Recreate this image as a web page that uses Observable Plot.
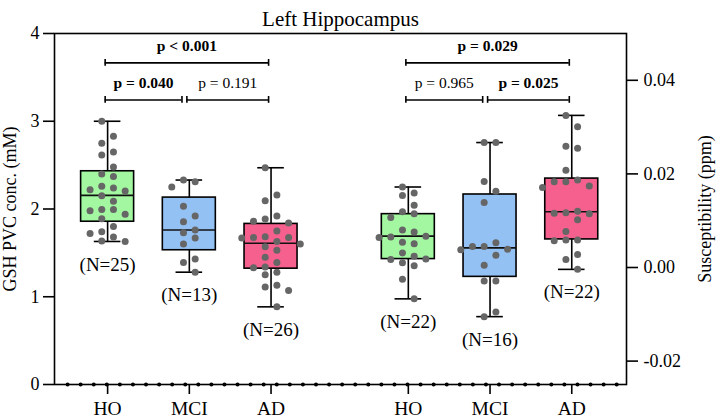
<!DOCTYPE html>
<html><head><meta charset="utf-8">
<script src="https://cdn.jsdelivr.net/npm/d3@7"></script>
<script src="https://cdn.jsdelivr.net/npm/@observablehq/plot@0.6"></script>
<style>body{margin:0;background:#fff}</style>
</head><body><div id="chart"></div>
<script>
// ---------- data ----------
const title = "Left Hippocampus";
const leftLabel = "GSH PVC conc. (mM)";
const rightLabel = "Susceptibility (ppm)";
const groups = ["HO", "MCI", "AD"];
const fills = ["#a2f7a0", "#94c1f4", "#f5608e"];
const leftTicks = [0, 1, 2, 3, 4];
const rightTicks = [-0.02, 0, 0.02, 0.04];
const leftDomain = [0, 4];
const rightDomain = [-0.025, 0.05];

// GSH PVC concentration (mM), individual subjects
const gshHO = [3.00, 2.83, 2.75, 2.65, 2.615, 2.48, 2.40, 2.37, 2.26, 2.24, 2.22, 2.205, 2.15, 2.087, 1.995, 1.995, 1.98, 1.94, 1.89, 1.80, 1.72, 1.74, 1.68, 1.63, 1.635];
const gshMCI = [2.31, 2.33, 2.25, 2.03, 1.92, 1.855, 1.76, 1.73, 1.67, 1.60, 1.43, 1.39, 1.28];
const gshAD = [2.47, 2.16, 2.095, 1.92, 1.885, 1.86, 1.84, 1.75, 1.685, 1.675, 1.675, 1.67, 1.63, 1.60, 1.57, 1.53, 1.45, 1.39, 1.34, 1.33, 1.28, 1.25, 1.13, 1.11, 1.07, 0.885];
// Susceptibility (ppm), individual subjects
const susHO = [0.0172, 0.0159, 0.0154, 0.0133, 0.0119, 0.0115, 0.0107, 0.0076, 0.0080, 0.0064, 0.0065, 0.0067, 0.0054, 0.0051, 0.0031, 0.0024, 0.0018, 0.0017, 0.0010, 0.0004, -0.0025, -0.0067];
const susMCI = [0.0267, 0.0267, 0.0184, 0.0163, 0.0139, 0.0053, 0.0045, 0.0045, 0.0039, 0.0038, 0.0026, 0.0005, -0.0029, -0.0029, -0.0095, -0.0105];
const susAD = [0.0325, 0.0301, 0.0259, 0.0255, 0.0208, 0.0183, 0.0174, 0.0183, 0.0171, 0.0187, 0.0120, 0.0115, 0.0117, 0.0116, 0.0102, 0.0077, 0.0057, 0.0059, 0.0059, 0.0028, 0.0017, -0.0004];

// box statistics (quartiles) per group
const gshQ1 = [1.855, 1.53, 1.32];
const gshMed = [2.155, 1.76, 1.61];
const gshQ3 = [2.43, 2.13, 1.83];
const susQ1 = [0.0018, -0.0020, 0.0060];
const susMed = [0.0067, 0.0042, 0.0119];
const susQ3 = [0.0114, 0.0156, 0.0190];

// pairwise comparisons: [from group index, to group index, label, p]
const gshComparisons = [[0, 1, "p = 0.040", 0.040], [1, 2, "p = 0.191", 0.191], [0, 2, "p < 0.001", 0.0009]];
const susComparisons = [[0, 1, "p = 0.965", 0.965], [1, 2, "p = 0.025", 0.025], [0, 2, "p = 0.029", 0.029]];

// ---------- layout ----------
const W = 720, H = 418;
const mL = 54, mR = 94, mT = 33, mB = 34;
const xDomain = [0, 7];
const groupPos = [0.65, 1.65, 2.65, 4.33, 5.33, 6.33];
const xPx = (W - mL - mR) / (xDomain[1] - xDomain[0]);
const yPx = (H - mT - mB) / (leftDomain[1] - leftDomain[0]);
const halfBox = 26.5 / xPx, halfCap = 13.3 / xPx, laneW = 11.7 / xPx;
const font = "'Liberation Serif', 'Times New Roman', serif";

const toL = s => (s - rightDomain[0]) / (rightDomain[1] - rightDomain[0]) * (leftDomain[1] - leftDomain[0]) + leftDomain[0];

function swarm(vals) {
  const order = d3.range(vals.length).sort((a, b) => vals[b] - vals[a]);
  const lanes = [-0.5, 0.5, -1.5, 1.5, -2.5, 2.5, -3.5, 3.5];
  const placed = new Map(lanes.map(l => [l, []]));
  const out = new Array(vals.length).fill(0);
  for (const i of order) {
    const y = vals[i] * yPx;
    const free = lanes.filter(l => placed.get(l).every(v => Math.abs(v - y) >= 7.5));
    free.sort((a, b) => Math.abs(a) - Math.abs(b) || placed.get(a).length - placed.get(b).length || a - b);
    const l = free[0];
    placed.get(l).push(y);
    out[i] = l;
  }
  return out;
}

const seriesL = [gshHO, gshMCI, gshAD];
const seriesR = [susHO, susMCI, susAD].map(a => a.map(toL));
const allSeries = [...seriesL, ...seriesR];
const q1 = [...gshQ1, ...susQ1.map(toL)];
const med = [...gshMed, ...susMed.map(toL)];
const q3 = [...gshQ3, ...susQ3.map(toL)];

const boxes = allSeries.map((vals, i) => ({
  x: groupPos[i], fill: fills[i % 3], n: vals.length,
  min: d3.min(vals), max: d3.max(vals), q1: q1[i], med: med[i], q3: q3[i]
}));
const points = allSeries.flatMap((vals, i) => {
  const lanes = swarm(vals);
  return vals.map((v, j) => ({x: groupPos[i] + lanes[j] * laneW, y: v}));
});

const levelY = [3.243, 3.665];
const brackets = [...gshComparisons.map(c => [0, c]), ...susComparisons.map(c => [3, c])].map(([off, [a, b, label, p]]) => {
  const level = (b - a) > 1 ? 1 : 0;
  const x1 = groupPos[off + a] - 0.03;
  const x2 = groupPos[off + b] - (level === 0 && a === 0 ? 0.09 : 0.03);
  return {x1, x2, y: levelY[level], label, bold: p < 0.05};
});
const bracketEnds = brackets.flatMap(b => [{x: b.x1, y: b.y}, {x: b.x2, y: b.y}]);
const minor = d3.range(1, 44).map(k => k * 0.16);

const nearest = (arr, d) => arr.findIndex(v => Math.abs(v - d) < 1e-6);
const rightTickPos = rightTicks.map(toL);

const chart = Plot.plot({
  width: W, height: H,
  marginLeft: mL, marginRight: mR, marginTop: mT, marginBottom: mB,
  x: {domain: xDomain},
  y: {domain: leftDomain},
  color: {type: "identity"},
  style: {fontFamily: font, fontSize: "18px", color: "black", background: "white"},
  marks: [
    Plot.ruleX(boxes, {x: "x", y1: "min", y2: "max", stroke: "black", strokeWidth: 1.6}),
    Plot.rect(boxes, {x1: d => d.x - halfBox, x2: d => d.x + halfBox, y1: "q1", y2: "q3", fill: "fill", stroke: "black", strokeWidth: 1.6}),
    Plot.ruleY(boxes, {y: "med", x1: d => d.x - halfBox, x2: d => d.x + halfBox, stroke: "#111", strokeWidth: 1.6}),
    Plot.ruleY(boxes, {y: "min", x1: d => d.x - halfCap, x2: d => d.x + halfCap, stroke: "black", strokeWidth: 1.6}),
    Plot.ruleY(boxes, {y: "max", x1: d => d.x - halfCap, x2: d => d.x + halfCap, stroke: "black", strokeWidth: 1.6}),
    Plot.dot(points, {x: "x", y: "y", r: 3.5, fill: "#666666", stroke: "none"}),
    Plot.text(boxes, {x: "x", y: "min", text: d => `(N=${d.n})`, dy: 23, fontSize: 19, fill: "black"}),
    Plot.ruleY(brackets, {y: "y", x1: "x1", x2: "x2", stroke: "black", strokeWidth: 1.6}),
    Plot.ruleX(bracketEnds, {x: "x", y1: d => d.y - 3.4 / yPx, y2: d => d.y + 3.4 / yPx, stroke: "black", strokeWidth: 1.6}),
    Plot.text(brackets.filter(b => b.bold), {x: d => (d.x1 + d.x2) / 2, y: "y", text: "label", dy: -17, fontSize: 15.5, fontWeight: "bold", fill: "black"}),
    Plot.text(brackets.filter(b => !b.bold), {x: d => (d.x1 + d.x2) / 2, y: "y", text: "label", dy: -17, fontSize: 15.5, fill: "black"}),
    Plot.frame({stroke: "black", strokeWidth: 1.6}),
    Plot.dot(minor, {x: d => d, y: () => leftDomain[0], r: 2, fill: "black", stroke: "none"}),
    Plot.axisY({ticks: leftTicks, tickFormat: d => String(d), tickSize: 11, tickPadding: 4, strokeWidth: 1.6, label: null, fontSize: 18}),
    Plot.axisY({anchor: "right", ticks: rightTickPos, tickFormat: d => { const i = nearest(rightTickPos, d); return i < 0 ? "" : rightTicks[i].toFixed(2); }, tickSize: 11, tickPadding: 6, strokeWidth: 1.6, label: null, fontSize: 18}),
    Plot.axisX({ticks: groupPos, tickFormat: d => { const i = nearest(groupPos, d); return i < 0 ? "" : groups[i % 3]; }, tickSize: 10, tickPadding: 7, strokeWidth: 1.6, label: null, fontSize: 19.5}),
    Plot.text([title], {frameAnchor: "top", dy: -22.7, fontSize: 21, fill: "black"}),
    Plot.text([leftLabel], {frameAnchor: "left", textAnchor: "middle", dx: -44, rotate: -90, fontSize: 18, fill: "black"}),
    Plot.text([rightLabel], {frameAnchor: "right", textAnchor: "middle", dx: 79, rotate: -90, fontSize: 18, fill: "black"})
  ]
});
document.getElementById("chart").appendChild(chart);
</script>
</body></html>
